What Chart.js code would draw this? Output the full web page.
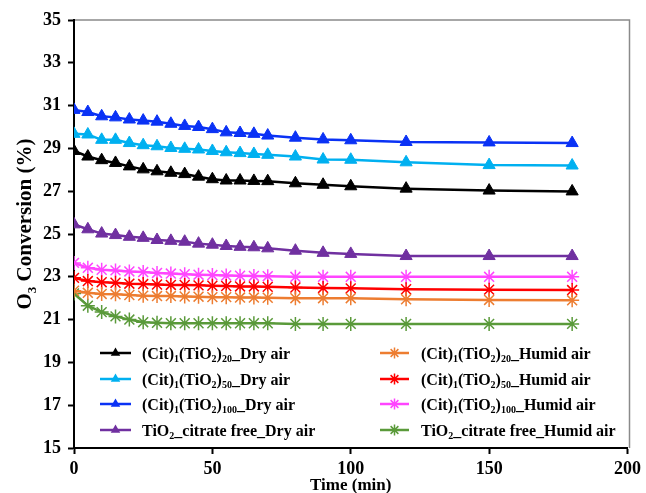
<!DOCTYPE html>
<html><head><meta charset="utf-8">
<script src="https://cdn.jsdelivr.net/npm/chart.js@4.4.0/dist/chart.umd.min.js"></script>
<style>html,body{margin:0;padding:0;background:#fff;}#wrap{width:646px;height:493px;position:relative;}</style>
</head><body><div id="wrap"><canvas id="c" width="646" height="493"></canvas></div>
<script>
// ---- data ----
const timeMin = [0,5,10,15,20,25,30,35,40,45,50,55,60,65,70,80,90,100,120,150,180];
const cit20Dry   = [28.88,28.62,28.45,28.32,28.16,28.02,27.93,27.86,27.80,27.68,27.56,27.50,27.50,27.48,27.47,27.37,27.30,27.23,27.12,27.03,26.99];
const cit50Dry   = [29.68,29.65,29.40,29.40,29.25,29.15,29.10,29.02,28.98,28.95,28.88,28.82,28.78,28.74,28.70,28.62,28.48,28.47,28.35,28.22,28.20];
const cit100Dry  = [30.80,30.70,30.50,30.45,30.35,30.30,30.25,30.15,30.05,30.00,29.90,29.75,29.72,29.68,29.60,29.50,29.42,29.38,29.30,29.28,29.25];
const tio2Dry    = [25.45,25.22,25.02,24.95,24.87,24.82,24.72,24.68,24.64,24.55,24.50,24.44,24.40,24.38,24.33,24.22,24.12,24.07,23.97,23.97,23.97];
const cit20Humid = [22.35,22.25,22.20,22.18,22.15,22.12,22.10,22.10,22.08,22.07,22.05,22.05,22.03,22.03,22.02,22.00,22.00,22.00,21.95,21.92,21.90];
const cit50Humid = [22.95,22.80,22.75,22.72,22.68,22.66,22.64,22.62,22.62,22.60,22.58,22.57,22.55,22.55,22.53,22.50,22.48,22.46,22.42,22.40,22.38];
const cit100Humid= [23.65,23.42,23.33,23.30,23.25,23.22,23.18,23.15,23.12,23.10,23.08,23.06,23.05,23.04,23.03,23.00,23.00,23.00,23.00,23.00,23.00];
const tio2Humid  = [22.22,21.65,21.35,21.15,21.00,20.88,20.85,20.83,20.83,20.83,20.83,20.83,20.83,20.83,20.83,20.80,20.80,20.80,20.80,20.80,20.80];
const seriesLabels = [
  "(Cit){1}(TiO{2}){20}_Dry air","(Cit){1}(TiO{2}){50}_Dry air","(Cit){1}(TiO{2}){100}_Dry air","TiO{2}_citrate free_Dry air",
  "(Cit){1}(TiO{2}){20}_Humid air","(Cit){1}(TiO{2}){50}_Humid air","(Cit){1}(TiO{2}){100}_Humid air","TiO{2}_citrate free_Humid air"
];
const xTicks = [0,50,100,150,200];
const yTicks = [15,17,19,21,23,25,27,29,31,33,35];
const xTitle = "Time (min)";
const yTitle = "O{3} Conversion (%)";

// ---- styling ----
const FONT = '"Liberation Serif","Times New Roman",serif';
const allValues = [cit20Dry,cit50Dry,cit100Dry,tio2Dry,cit20Humid,cit50Humid,cit100Humid,tio2Humid];
const colors = ['#000000','#00B0F0','#0A32F5','#7030A0','#ED7D31','#FF0000','#FF45FF','#5A9A3A'];
const styles = ['triangle','triangle','triangle','triangle','star','star','star','star'];

const datasets = allValues.map((vals,i)=>({
  label: seriesLabels[i],
  data: timeMin.map((t,j)=>({x:t,y:vals[j]})),
  borderColor: colors[i],
  backgroundColor: colors[i],
  borderWidth: 2.5,
  pointStyle: styles[i],
  pointRadius: 7,
  pointBorderWidth: styles[i]==='triangle' ? 1 : 1.5,
  pointBackgroundColor: colors[i],
  pointBorderColor: colors[i],
  tension: 0,
  fill: false
}));

function drawRich(ctx, str, x, y, size){
  const parts = str.split(/(\{[^}]*\})/).filter(s=>s.length);
  let cx = x;
  for (const p of parts){
    if (p[0]==='{'){
      const t = p.slice(1,-1);
      ctx.font = `bold ${Math.round(size*0.62)}px ${FONT}`;
      ctx.fillText(t, cx, y + size*0.22);
      cx += ctx.measureText(t).width;
    } else {
      ctx.font = `bold ${size}px ${FONT}`;
      ctx.fillText(p, cx, y);
      cx += ctx.measureText(p).width;
    }
  }
  return cx - x;
}
function richWidth(ctx, str, size){
  const parts = str.split(/(\{[^}]*\})/).filter(s=>s.length);
  let w = 0;
  for (const p of parts){
    if (p[0]==='{'){ ctx.font = `bold ${Math.round(size*0.62)}px ${FONT}`; w += ctx.measureText(p.slice(1,-1)).width; }
    else { ctx.font = `bold ${size}px ${FONT}`; w += ctx.measureText(p).width; }
  }
  return w;
}
function drawMarker(ctx, style, x, y, r, color){
  ctx.save();
  ctx.fillStyle = color; ctx.strokeStyle = color;
  ctx.beginPath();
  if (style==='triangle'){
    for (let k=0;k<3;k++){
      const a = k*2*Math.PI/3;
      const px = x + Math.sin(a)*r, py = y - Math.cos(a)*r;
      k ? ctx.lineTo(px,py) : ctx.moveTo(px,py);
    }
    ctx.closePath(); ctx.fill();
  } else {
    ctx.lineWidth = 1.5;
    for (let k=0;k<4;k++){
      const a = k*Math.PI/4;
      ctx.moveTo(x + Math.cos(a)*r, y + Math.sin(a)*r);
      ctx.lineTo(x - Math.cos(a)*r, y - Math.sin(a)*r);
    }
    ctx.stroke();
  }
  ctx.restore();
}

const framePlugin = {
  id:'frame',
  beforeDraw(chart){
    const {ctx, chartArea:a} = chart;
    ctx.save();
    ctx.strokeStyle = '#8a8a8a'; ctx.lineWidth = 1.5;
    ctx.beginPath();
    ctx.moveTo(a.left, a.top); ctx.lineTo(a.right+2, a.top); ctx.lineTo(a.right+2, a.bottom);
    ctx.stroke();
    ctx.restore();
  },
  afterDraw(chart){
    const {ctx} = chart;
    ctx.save();
    ctx.fillStyle = '#000';
    ctx.textBaseline = 'alphabetic';
    // y title
    const ysize = 21;
    const w = richWidth(ctx, yTitle, ysize);
    ctx.translate(31, 224);
    ctx.rotate(-Math.PI/2);
    drawRich(ctx, yTitle, -w/2, 0, ysize);
    ctx.restore();
    // legend
    ctx.save();
    const size = 16;
    const rows = [353, 379, 404, 430];
    const cols = [{l0:100,l1:131,tx:142},{l0:380,l1:409,tx:421}];
    for (let i=0;i<8;i++){
      const c = cols[Math.floor(i/4)], ry = rows[i%4];
      ctx.strokeStyle = colors[i]; ctx.lineWidth = 2.5;
      ctx.beginPath(); ctx.moveTo(c.l0, ry); ctx.lineTo(c.l1, ry); ctx.stroke();
      drawMarker(ctx, styles[i], (c.l0+c.l1)/2, ry, 5.5, colors[i]);
      ctx.fillStyle = '#000';
      drawRich(ctx, seriesLabels[i], c.tx, ry + 5.5, size);
    }
    ctx.restore();
  }
};

new Chart(document.getElementById('c'), {
  type:'line',
  data:{datasets},
  plugins:[framePlugin],
  options:{
    responsive:false,
    devicePixelRatio:1,
    animation:false,
    layout:{padding:{top:20,right:16,left:0,bottom:0}},
    plugins:{legend:{display:false},tooltip:{enabled:false}},
    scales:{
      x:{
        type:'linear', min:0, max:200,
        afterBuildTicks(s){ s.ticks = xTicks.map(v=>({value:v})); },
        afterFit(s){ s.height = 45; },
        ticks:{color:'#000', font:{family:FONT, size:18, weight:'bold'}, padding:5, maxRotation:0},
        grid:{drawOnChartArea:false, drawTicks:true, tickLength:6, tickColor:'#000', tickWidth:2},
        border:{color:'#000', width:2},
        title:{display:true, text:xTitle, color:'#000', font:{family:FONT, size:17, weight:'bold', lineHeight:1}, padding:{top:0,bottom:-1}}
      },
      y:{
        type:'linear', min:15, max:35,
        afterBuildTicks(s){ s.ticks = yTicks.map(v=>({value:v})); },
        afterFit(s){ s.width = 74; },
        ticks:{color:'#000', font:{family:FONT, size:18, weight:'bold'}, padding:7},
        grid:{drawOnChartArea:false, drawTicks:true, tickLength:6, tickColor:'#000', tickWidth:2},
        border:{color:'#000', width:2}
      }
    }
  }
});
</script></body></html>
